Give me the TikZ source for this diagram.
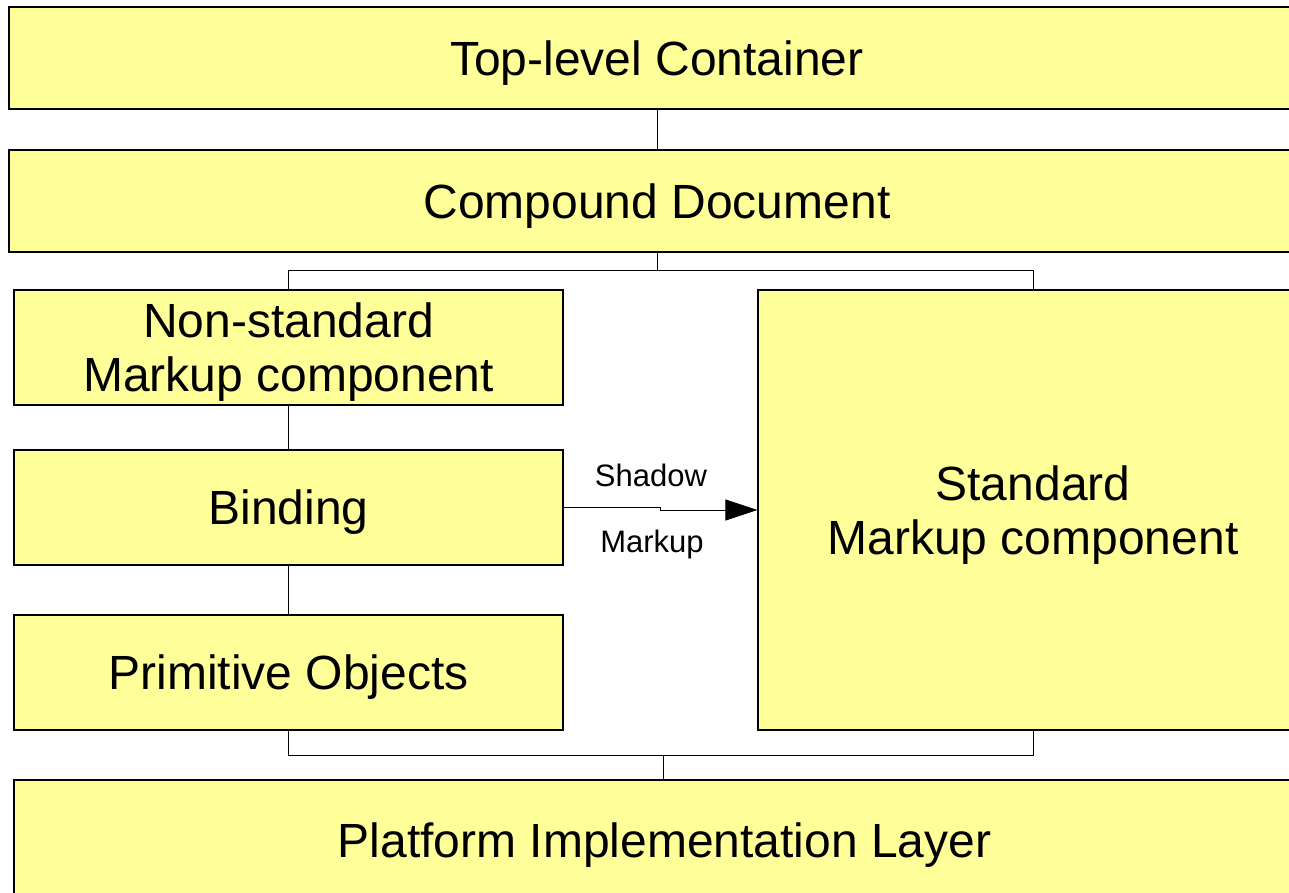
\documentclass[tikz,border=0pt]{standalone}
\usepackage{fontspec}
\setmainfont{Liberation Sans}
\usetikzlibrary{arrows.meta, positioning, calc}
\definecolor{cBox}{RGB}{255,255,153}
\tikzset{
	layer/.style={rectangle, draw=black, line width=1.2pt, fill=cBox, inner sep=0pt, align=center, text depth=0pt, font=\fontsize{48}{54}\selectfont},
	wide/.style ={layer, minimum width=1296, minimum height=102},
	part/.style ={layer, minimum width=549, minimum height=115},
	conn/.style ={line width=1pt},
	sig/.style  ={-{Triangle[length=32pt, width=21pt]}, line width=1pt},
	lbl/.style  ={font=\fontsize{31}{36}\selectfont},
}
\begin{document}
\begin{tikzpicture}[x=1pt, y=-1pt]
	\useasboundingbox (0,0) rectangle (1289,892);
	\fill[white] (0,0) rectangle (1289,892);
	% layers
	\node[wide] (top) at (657,58) {Top-level Container};
	\node[wide] (compound) at (657,201) {Compound Document};
	\node[part] (nonstd) at (288.5,347.5) {Non-standard\\Markup component};
	\node[part] (binding) at (288.5,507.5) {Binding};
	\node[part] (prim) at (288.5,672.5) {Primitive Objects};
	\node[layer, minimum width=550, minimum height=440] (std) at (1033,510) {Standard\\Markup component};
	\node[layer, minimum width=1301, minimum height=120] (platform) at (664.5,840) {Platform Implementation Layer};
	% connectors
	\draw[conn] (top) -- (compound);
	\coordinate (split) at ($(compound.south)+(0,18)$);
	\draw[conn] (compound.south) -- (split) -| (nonstd.north);
	\draw[conn] (split) -| (std.north);
	\draw[conn] (nonstd) -- (binding);
	\draw[conn] (binding) -- (prim);
	\coordinate (join) at (663,755);
	\draw[conn] (prim.south) |- (join) -| (std.south);
	\draw[conn] (join) -- (platform.north -| join);
	% shadow markup
	\coordinate (step) at (660,507.5);
	\draw[sig] (binding.east) -- (step) -- ++(0,2.5) -- (std.west);
	\node[lbl] (shadow) at (651,475) {Shadow};
	\node[lbl] (markup) at (652,544) {Markup};
\end{tikzpicture}
\end{document}
